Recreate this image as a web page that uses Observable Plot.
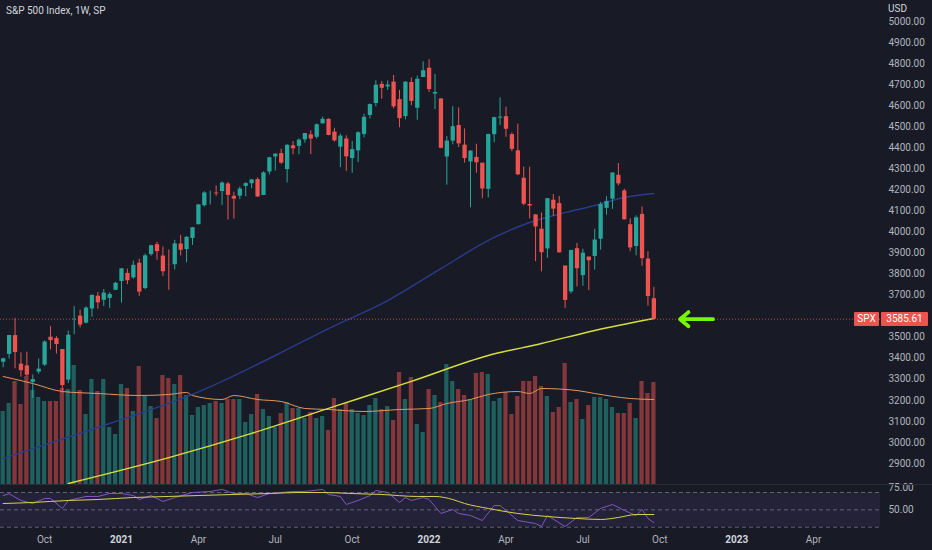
<!DOCTYPE html>
<html>
<head>
<meta charset="utf-8">
<script src="https://cdn.jsdelivr.net/npm/d3@7"></script>
<script src="https://cdn.jsdelivr.net/npm/@observablehq/plot@0.6"></script>
<style>
  html, body { margin: 0; padding: 0; background: #181b25; }
  #chart { position: relative; width: 932px; height: 550px; background: #181b25; overflow: hidden;
           font-family: Roboto, "Noto Sans", sans-serif; }
  #chart svg { position: absolute; left: 0; }
  .ov { position: absolute; font-size: 10px; line-height: 12px; white-space: nowrap; }
  .title { left: 6px; top: 5px; color: #d1d4dc; }
  .usd { left: 880px; top: 0px; width: 52px; height: 16px; background: #181b25; color: #d1d4dc; }
  .usd span { position: absolute; left: 8px; top: 3px; }
  .box { height: 14px; line-height: 14px; background: #ef5350; color: #ffffff; text-align: center; border-radius: 1px; }
  .sep { position: absolute; left: 0; width: 932px; height: 1px; background: #2a2e39; }
</style>
</head>
<body>
<div id="chart">
</div>
<script>
// ---------------- data ----------------
const firstWeek = "2020-08-17"; // Monday of first weekly bar
const opens = [
3380.86,3418.09,3507.44,3371.88,3363.56,3285.57,3333.90,3367.27,3500.02,3493.50,
3441.42,3296.20,3583.04,3600.16,3566.82,3634.18,3694.73,3675.27,3684.28,3723.03,
3764.61,3803.14,3781.88,3851.68,3731.17,3892.59,3939.61,3885.55,3842.51,3844.39,
3942.96,3916.48,3969.31,4034.44,4124.71,4179.80,4185.03,4191.98,4228.29,4169.60,
4170.16,4216.52,4229.34,4248.87,4173.40,4284.90,4356.46,4372.41,4296.40,4409.58,
4406.86,4437.77,4461.65,4450.29,4513.76,4535.38,4474.81,4402.95,4442.12,4348.84,
4385.44,4463.72,4553.69,4610.62,4701.48,4689.30,4712.00,4628.75,4548.37,4710.30,
4587.90,4733.99,4778.14,4655.34,4632.24,4356.32,4431.79,4505.75,4412.61,4332.74,
4354.17,4327.01,4202.75,4462.40,4541.09,4547.97,4462.64,4385.63,4255.34,4130.61,
4081.27,4013.02,3919.42,4151.09,4134.72,3838.15,3715.31,3920.76,3792.61,3880.94,
3883.79,3965.72,4112.38,4155.93,4269.37,4195.08,4034.58,3930.89,4083.67,3871.40,
3682.72];
const highs = [
3399.96,3509.23,3588.11,3425.55,3428.92,3320.31,3397.18,3482.34,3549.85,3502.42,
3441.42,3529.05,3645.99,3628.51,3644.31,3699.20,3712.39,3726.70,3711.24,3760.20,
3826.69,3823.60,3861.45,3870.90,3894.56,3937.21,3950.43,3928.65,3914.50,3960.27,
3983.87,3978.19,4020.63,4129.48,4191.31,4194.17,4218.78,4238.04,4236.39,4188.72,
4213.42,4234.12,4249.74,4257.16,4286.12,4355.01,4371.60,4393.68,4415.18,4429.97,
4442.18,4468.00,4480.26,4513.33,4545.85,4537.36,4492.81,4465.40,4457.30,4429.97,
4475.82,4559.67,4608.08,4718.50,4714.92,4717.75,4743.83,4672.95,4713.57,4731.99,
4740.74,4808.93,4818.62,4748.83,4632.24,4453.23,4595.31,4590.03,4489.55,4385.34,
4416.78,4327.01,4465.40,4546.03,4637.30,4593.45,4471.00,4512.94,4308.45,4307.66,
4081.27,4090.72,4158.49,4177.51,4168.78,3838.15,3913.65,3945.86,3918.50,3880.94,
4012.44,4140.15,4167.66,4280.47,4325.28,4203.04,4062.99,4076.81,4119.28,3906.03,
3736.74];
const lows = [
3354.69,3396.00,3349.63,3310.47,3313.00,3209.45,3323.69,3360.95,3440.45,3419.93,
3233.94,3279.74,3511.91,3543.84,3563.00,3594.39,3633.40,3645.84,3636.48,3723.03,
3662.71,3749.62,3775.00,3694.12,3725.62,3884.94,3865.67,3789.00,3723.34,3819.25,
3886.00,3853.50,3936.00,4034.44,4118.38,4128.00,4169.00,4126.00,4056.88,4061.41,
4154.00,4167.59,4205.00,4164.40,4173.40,4271.00,4289.37,4321.07,4233.13,4367.00,
4367.00,4422.00,4367.73,4441.00,4513.00,4457.00,4427.00,4305.91,4288.52,4278.94,
4329.92,4447.47,4537.36,4595.06,4630.86,4672.78,4585.43,4495.12,4532.66,4600.22,
4531.10,4733.99,4662.74,4582.24,4395.34,4222.62,4414.00,4401.41,4327.22,4114.65,
4279.54,4157.87,4161.72,4424.30,4506.27,4450.04,4381.34,4267.62,4124.28,4062.51,
3858.87,3810.32,3875.13,4073.85,3900.16,3636.87,3705.68,3738.67,3742.06,3721.56,
3818.63,3913.42,4079.81,4107.96,4218.70,4057.66,3906.21,3886.75,3837.08,3647.47,
3584.13];
const closes = [
3397.16,3508.01,3426.96,3340.97,3319.47,3298.46,3348.44,3477.14,3483.81,3465.39,
3269.96,3509.44,3585.15,3557.54,3638.35,3699.12,3663.46,3709.41,3703.06,3756.07,
3824.68,3768.25,3841.47,3714.24,3886.83,3934.83,3906.71,3811.15,3841.94,3943.34,
3913.10,3974.54,4019.87,4128.80,4185.47,4180.17,4181.17,4232.60,4173.85,4155.86,
4204.11,4229.89,4247.44,4166.45,4280.70,4352.34,4369.55,4327.16,4411.79,4395.26,
4436.52,4468.00,4441.67,4509.37,4535.43,4458.58,4432.99,4455.48,4357.04,4391.34,
4471.37,4544.90,4605.38,4697.53,4682.85,4697.96,4594.62,4538.43,4712.02,4620.64,
4725.79,4766.18,4677.03,4662.85,4397.94,4431.85,4500.53,4418.64,4348.87,4384.65,
4328.87,4204.31,4463.12,4543.06,4545.86,4488.28,4392.59,4271.78,4131.93,4123.34,
4023.89,3901.36,4158.24,4108.54,3900.86,3674.84,3911.74,3825.33,3899.38,3863.16,
3961.63,4130.29,4145.19,4280.15,4228.48,4057.66,3924.26,4067.36,3873.33,3693.23,
3585.61];
// weekly volume (billions)
const volumes = [
7.3,8.1,10.3,8.0,10.8,9.4,8.7,8.3,8.3,8.3,
9.6,9.5,11.9,9.4,7.0,10.5,9.3,10.5,5.7,5.0,
10.0,9.6,7.3,11.8,8.8,7.8,6.6,10.9,10.6,10.0,
10.9,8.9,6.9,7.7,7.9,8.1,8.3,8.1,8.5,8.5,
8.5,6.2,7.0,9.0,7.5,6.8,5.7,7.1,8.2,7.6,
7.6,6.6,7.2,6.6,6.8,5.4,8.6,7.5,8.1,7.5,
7.1,6.9,7.9,8.6,7.5,7.8,6.4,11.2,8.5,10.7,
6.0,5.2,9.5,8.9,8.2,12.0,10.3,9.5,8.9,8.5,
11.1,11.2,11.0,8.3,8.6,9.2,7.0,8.8,10.3,10.3,
10.8,9.8,8.8,7.2,7.7,12.1,8.2,8.5,6.5,7.9,
8.7,8.7,8.5,7.7,7.1,7.1,8.1,6.6,10.3,9.1,
10.2];
// moving averages (week index from first bar, value)
const maBlueWeeks = [0,18,27,32,46,55,65,74,83,89,95,100,105,110];
const maBlueVals  = [2924,3090,3176,3228,3413,3541,3674,3826,3974,4045,4092,4126,4164,4183];
const maYellowWeeks = [11,28,42,56,69,82,91,100,110];
const maYellowVals  = [2805,2928,3043,3171,3290,3413,3470,3532,3589];
const volMaWeeks = [0,5,10,16,23,28,31,32,37,39,43,47,51,55,61,67,72,75,79,82,87,89,91,97,100,106,110];
const volMaVals  = [10.8,10.1,9.3,9.1,8.9,9.0,9.2,8.9,8.5,8.9,8.5,8.3,7.6,7.5,7.3,7.5,7.6,8.1,8.5,9.0,9.3,9.1,9.6,9.4,9.1,8.6,8.5];
const rsiWeeks = [0,1,3,5,7,8,10,11,14,16,18,20,22,23,25,27,29,32,35,37,39,41,43,45,47,49,51,54,55,57,58,60,62,63,65,67,68,69,71,72,74,76,77,79,81,83,84,87,90,91,92,95,97,99,101,103,105,107,108,109,110];
const rsiVals  = [66.5,68.5,60.8,57.3,63.1,63.1,51.6,60.8,65.4,65.4,68.8,68.8,66.5,61.9,66.5,59.6,64.2,70,71.2,73.5,68.8,68.8,64.2,68.8,70,71.2,71.2,73.5,67.7,65.4,56.2,60.8,66.5,72.3,70,58.5,64.2,60.8,64.2,61.9,45.8,50.4,45.8,43.5,37.7,55,55,37.7,34.2,30.8,43.5,30.8,41.2,41.2,51.6,56.2,49.3,43.5,50.4,40,35.4];
const rsiMaWeeks = [0,5,11,16,22,28,33,39,45,50,54,59,64,70,73,76,78,82,87,92,97,101,104,107,110];
const rsiMaVals  = [57.3,58.5,60.8,61.9,64.2,65.4,66.5,67.7,68.8,70,70,68.8,67.7,65.4,65.4,61.9,57.3,51.6,45.8,42.3,40,38.9,41.2,44.6,44.6];
const rsiLevels = [70, 50, 30];
const rsiTicks = [75, 50];
const priceTicks = d3.range(2900, 5001, 100);
const xTickDates  = ["2020-10-05","2021-01-04","2021-04-05","2021-07-05","2021-10-04","2022-01-03","2022-04-04","2022-07-04","2022-10-03","2023-01-02","2023-04-03"];
const xTickLabels = ["Oct","2021","Apr","Jul","Oct","2022","Apr","Jul","Oct","2023","Apr"];
const symbol = "SPX";
const chartTitle = "S&P 500 Index, 1W, SP";
const currency = "USD";

// ---------------- build ----------------
const DAY = 864e5;
const start = new Date(firstWeek + "T00:00:00Z");
const wk = w => new Date(+start + w * 7 * DAY);
const bars = opens.map((o, i) => ({
  date: wk(i), open: o, high: highs[i], low: lows[i], close: closes[i], volume: volumes[i]
}));
const UP = "#26a69a", DOWN = "#ef5350";
const col = d => d.close >= d.open ? UP : DOWN;
const series = (ws, vs) => ws.map((w, k) => ({date: wk(w), v: vs[k]}));
const last = bars[bars.length - 1];
// the last-price label hides axis labels it would collide with
const shownPriceTicks = priceTicks.filter(p => Math.abs(p - last.close) > 40);

const W = 932, MR = 52;
const xDomain = [new Date(+start - 3.2 * DAY), new Date(+start + 1038.2 * DAY)];
const font = 'Roboto, "Noto Sans", sans-serif';
const baseStyle = {background: "transparent", fontFamily: font, fontSize: "10px", color: "#b2b5be", overflow: "visible"};

const chart = document.getElementById("chart");

// volume layer
const volPlot = Plot.plot({
  width: W, height: 484, marginLeft: 0, marginRight: MR, marginTop: 0, marginBottom: 0,
  style: baseStyle,
  x: {type: "utc", domain: xDomain, axis: null},
  y: {domain: [0, 48.4], axis: null},
  color: {type: "identity"},
  marks: [
    Plot.rectY(bars, {
      x1: d => new Date(+d.date - 2.5 * DAY), x2: d => new Date(+d.date + 2.5 * DAY),
      y: "volume", fill: col, fillOpacity: 0.5
    }),
    Plot.line(series(volMaWeeks, volMaVals), {x: "date", y: "v", stroke: "#e2955c", strokeWidth: 1, curve: "monotone-x"})
  ]
});
volPlot.style.top = "0px";
chart.appendChild(volPlot);

// price layer
const pricePlot = Plot.plot({
  width: W, height: 484, marginLeft: 0, marginRight: MR, marginTop: 0, marginBottom: 0,
  style: baseStyle,
  x: {type: "utc", domain: xDomain, axis: null},
  y: {domain: [2800, 5100], axis: null},
  color: {type: "identity"},
  marks: [
    Plot.axisY(shownPriceTicks, {anchor: "right", label: null, tickSize: 0, tickPadding: 8,
      textAnchor: "start", tickFormat: d => d.toFixed(2), fill: "#b2b5be"}),
    Plot.line(series(maBlueWeeks, maBlueVals), {x: "date", y: "v", stroke: "#283c8c", strokeWidth: 1.4, curve: "monotone-x"}),
    Plot.line(series(maYellowWeeks, maYellowVals), {x: "date", y: "v", stroke: "#d8df3a", strokeWidth: 1.4, curve: "monotone-x"}),
    Plot.ruleY([last.close], {stroke: "#ef5350", strokeOpacity: 0.8, strokeDasharray: "1,2"}),
    Plot.ruleX(bars, {x: "date", y1: "low", y2: "high", stroke: col, strokeWidth: 1}),
    Plot.ruleX(bars, {x: "date", y1: "open", y2: "close", stroke: col, strokeWidth: 4.3}),
    Plot.arrow([last], {
      x1: d => new Date(+d.date + 70 * DAY), y1: "close",
      x2: d => new Date(+d.date + 31 * DAY), y2: "close",
      stroke: "#76f700", strokeWidth: 3.8, headAngle: 80, headLength: 6, strokeLinecap: "round"
    })
  ]
});
pricePlot.style.top = "0px";
chart.appendChild(pricePlot);

// RSI pane + time axis
const tickMap = new Map(xTickDates.map((d, i) => [+new Date(d + "T00:00:00Z"), xTickLabels[i]]));
const isYear = s => /^\d{4}$/.test(s);
const monthDates = xTickDates.filter((d, i) => !isYear(xTickLabels[i])).map(d => new Date(d + "T00:00:00Z"));
const yearDates = xTickDates.filter((d, i) => isYear(xTickLabels[i])).map(d => new Date(d + "T00:00:00Z"));

const rsiPlot = Plot.plot({
  width: W, height: 66, marginLeft: 0, marginRight: MR, marginTop: 0, marginBottom: 20,
  style: baseStyle,
  x: {type: "utc", domain: xDomain, axis: null},
  y: {domain: [26.2, 79.2], axis: null},
  marks: [
    Plot.rect([{lo: rsiLevels[2], hi: rsiLevels[0]}], {x1: () => xDomain[0], x2: () => xDomain[1], y1: "lo", y2: "hi", fill: "#7e57c2", fillOpacity: 0.12}),
    Plot.ruleY(rsiLevels, {stroke: "#787b86", strokeOpacity: 0.75, strokeDasharray: "4,3"}),
    Plot.line(series(rsiWeeks, rsiVals), {x: "date", y: "v", stroke: "#7e57c2", strokeWidth: 1}),
    Plot.line(series(rsiMaWeeks, rsiMaVals), {x: "date", y: "v", stroke: "#d9d24a", strokeWidth: 1, curve: "monotone-x"}),
    Plot.axisY(rsiTicks, {anchor: "right", label: null, tickSize: 0, tickPadding: 8, textAnchor: "start",
      tickFormat: d => d.toFixed(2), fill: "#b2b5be"}),
    Plot.axisX(monthDates, {anchor: "bottom", label: null, tickSize: 0, tickPadding: 5,
      tickFormat: d => tickMap.get(+d), fill: "#b2b5be"}),
    Plot.axisX(yearDates, {anchor: "bottom", label: null, tickSize: 0, tickPadding: 5,
      tickFormat: d => tickMap.get(+d), fill: "#d1d4dc", fontWeight: "bold"})
  ]
});
rsiPlot.style.top = "484px";
chart.appendChild(rsiPlot);

// separators and overlays
const sep = document.createElement("div");
sep.className = "sep"; sep.style.top = "484px";
chart.appendChild(sep);

const t = document.createElement("div");
t.className = "ov title"; t.textContent = chartTitle;
chart.appendChild(t);

const u = document.createElement("div");
u.className = "ov usd"; u.innerHTML = "<span></span>";
u.firstChild.textContent = currency;
chart.appendChild(u);

const yc = pricePlot.scale("y").apply(last.close);
const b1 = document.createElement("div");
b1.className = "ov box"; b1.textContent = symbol;
Object.assign(b1.style, {left: "854px", width: "25px", top: (yc - 7) + "px"});
chart.appendChild(b1);
const b2 = document.createElement("div");
b2.className = "ov box"; b2.textContent = last.close.toFixed(2);
Object.assign(b2.style, {left: "881px", width: "47px", top: (yc - 7) + "px"});
chart.appendChild(b2);
</script>
</body>
</html>
